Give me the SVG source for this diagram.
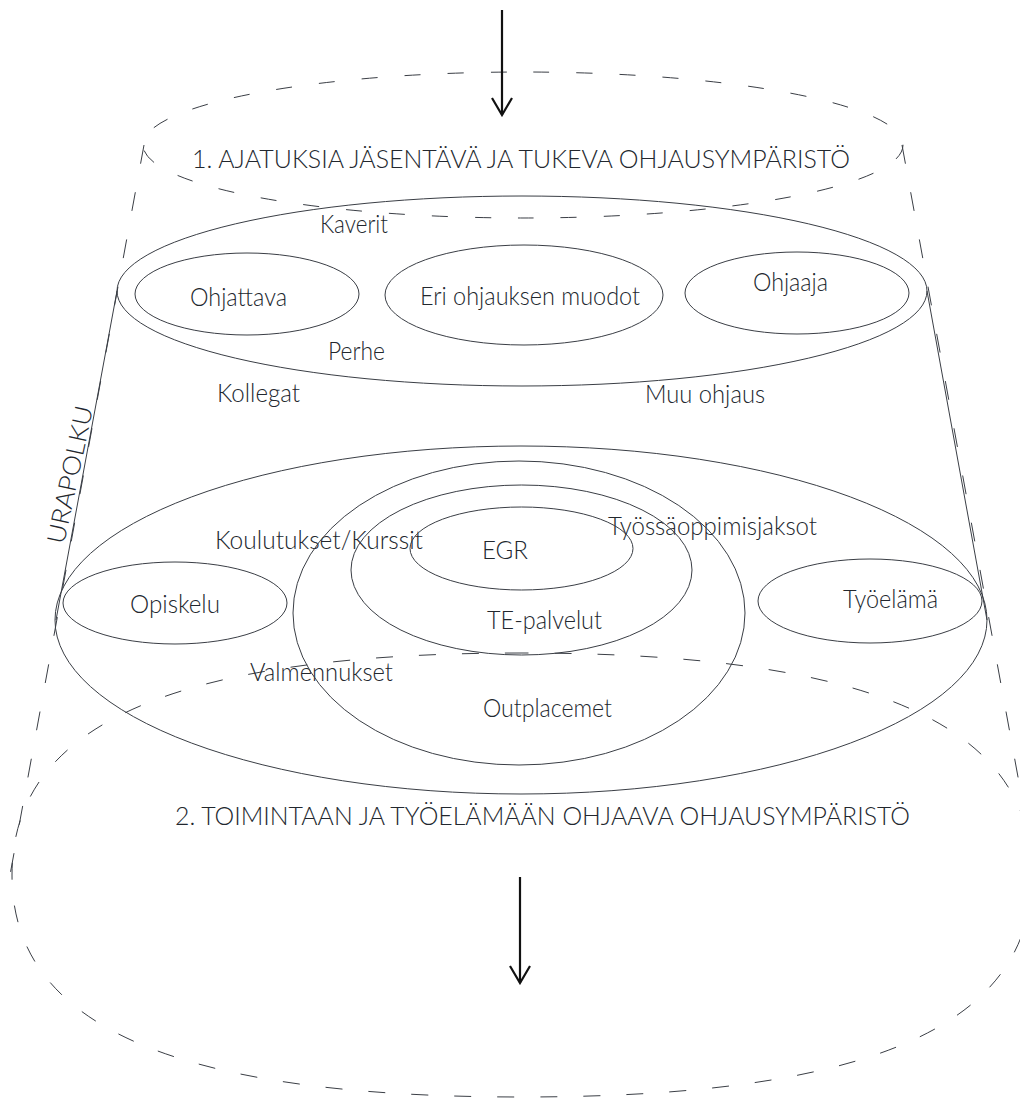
<svg xmlns="http://www.w3.org/2000/svg" width="1020" height="1098" viewBox="0 0 1020 1098">
  <style>
    .ring { fill: none; stroke: #3a3e45; stroke-width: 1; }
    .dash-ring { fill: none; stroke: #3a3e45; stroke-width: 1; stroke-dasharray: 16 27; }
    .dash-side { fill: none; stroke: #3a3e45; stroke-width: 1; stroke-dasharray: 19 29; }
    .side { fill: none; stroke: #3a3e45; stroke-width: 1; }
    .arrow { fill: none; stroke: #111; stroke-width: 2.2; }
    text { font-family: Lato, "Liberation Sans", sans-serif; font-weight: 300; font-size: 25px; fill: #22272e; }
  </style>
  <defs>
    <marker id="vhead" viewBox="0 -12 20 24" markerWidth="20" markerHeight="24" refX="18" refY="0" orient="auto" markerUnits="userSpaceOnUse">
      <path d="M1,-10 L18,0 L1,10" fill="none" stroke="#111" stroke-width="2.2" stroke-linejoin="miter"/>
    </marker>
  </defs>
  <rect width="1020" height="1098" fill="#fff"/>

  <!-- outer dashed frame: upper environment, lower environment and the sides joining them -->
  <g id="frame-upper">
    <ellipse class="dash-ring" cx="523" cy="145" rx="380" ry="73"/>
    <text x="192" y="168" textLength="658" lengthAdjust="spacingAndGlyphs">1. AJATUKSIA JÄSENTÄVÄ JA TUKEVA OHJAUSYMPÄRISTÖ</text>
  </g>
  <g id="frame-lower">
    <path class="dash-ring" style="stroke-dasharray:17 26" d="M522,653 C175,653 12,724 12,875 C12,1026 175,1097 522,1097 C869,1097 1032,1026 1032,875 C1032,724 869,653 522,653 Z"/>
    <text x="175" y="825" textLength="735" lengthAdjust="spacingAndGlyphs">2. TOIMINTAAN JA TYÖELÄMÄÄN OHJAAVA OHJAUSYMPÄRISTÖ</text>
  </g>
  <g id="frame-sides">
    <line class="dash-side" x1="144" y1="145" x2="10" y2="875"/>
    <line class="dash-side" x1="902" y1="145" x2="1036" y2="875"/>
  </g>

  <!-- solid career-path cylinder -->
  <g id="urapolku">
    <line class="side" x1="117" y1="291" x2="56" y2="620"/>
    <line class="side" x1="927" y1="291" x2="987" y2="620"/>
    <text transform="translate(64,545) rotate(-78)" textLength="140" lengthAdjust="spacingAndGlyphs">URAPOLKU</text>
  </g>

  <g id="upper-level">
    <ellipse class="ring" cx="522" cy="291" rx="405" ry="95"/>
    <text x="320" y="233" textLength="68" lengthAdjust="spacingAndGlyphs">Kaverit</text>
    <text x="328" y="360" textLength="57" lengthAdjust="spacingAndGlyphs">Perhe</text>
    <text x="217" y="402" textLength="83" lengthAdjust="spacingAndGlyphs">Kollegat</text>
    <text x="645" y="403" textLength="120" lengthAdjust="spacingAndGlyphs">Muu ohjaus</text>
  </g>
  <g id="ohjattava">
    <ellipse class="ring" cx="247" cy="294" rx="112" ry="41"/>
    <text x="190" y="306" textLength="97" lengthAdjust="spacingAndGlyphs">Ohjattava</text>
  </g>
  <g id="ohjauksen-muodot">
    <ellipse class="ring" cx="524" cy="295" rx="139" ry="50"/>
    <text x="420" y="305" textLength="220" lengthAdjust="spacingAndGlyphs">Eri ohjauksen muodot</text>
  </g>
  <g id="ohjaaja">
    <ellipse class="ring" cx="797" cy="293" rx="112" ry="41"/>
    <text x="753" y="291" textLength="75" lengthAdjust="spacingAndGlyphs">Ohjaaja</text>
  </g>

  <g id="lower-level">
    <ellipse class="ring" cx="521" cy="620" rx="466" ry="174"/>
    <text x="215" y="549" textLength="208" lengthAdjust="spacingAndGlyphs">Koulutukset/Kurssit</text>
    <text x="608" y="535" textLength="209" lengthAdjust="spacingAndGlyphs">Työssäoppimisjaksot</text>
    <text x="250" y="681" textLength="143" lengthAdjust="spacingAndGlyphs">Valmennukset</text>
  </g>
  <g id="opiskelu">
    <ellipse class="ring" cx="175" cy="603" rx="112" ry="41"/>
    <text x="130" y="613" textLength="90" lengthAdjust="spacingAndGlyphs">Opiskelu</text>
  </g>
  <g id="tyoelama">
    <ellipse class="ring" cx="870" cy="601" rx="112" ry="42"/>
    <text x="843" y="608" textLength="95" lengthAdjust="spacingAndGlyphs">Työelämä</text>
  </g>
  <g id="outplacement">
    <ellipse class="ring" cx="519" cy="613" rx="226" ry="152"/>
    <text x="483" y="717" textLength="129" lengthAdjust="spacingAndGlyphs">Outplacemet</text>
  </g>
  <g id="te-palvelut">
    <ellipse class="ring" cx="521.5" cy="570" rx="170.5" ry="85"/>
    <text x="487" y="629" textLength="115" lengthAdjust="spacingAndGlyphs">TE-palvelut</text>
  </g>
  <g id="egr">
    <ellipse class="ring" cx="521.5" cy="548.5" rx="111.5" ry="41.5"/>
    <text x="482" y="559" textLength="46" lengthAdjust="spacingAndGlyphs">EGR</text>
  </g>

  <!-- flow through the environments -->
  <g id="connectors">
    <line class="arrow" x1="502" y1="10" x2="502" y2="115" marker-end="url(#vhead)"/>
    <line class="arrow" x1="520" y1="877" x2="520" y2="983" marker-end="url(#vhead)"/>
  </g>
</svg>
